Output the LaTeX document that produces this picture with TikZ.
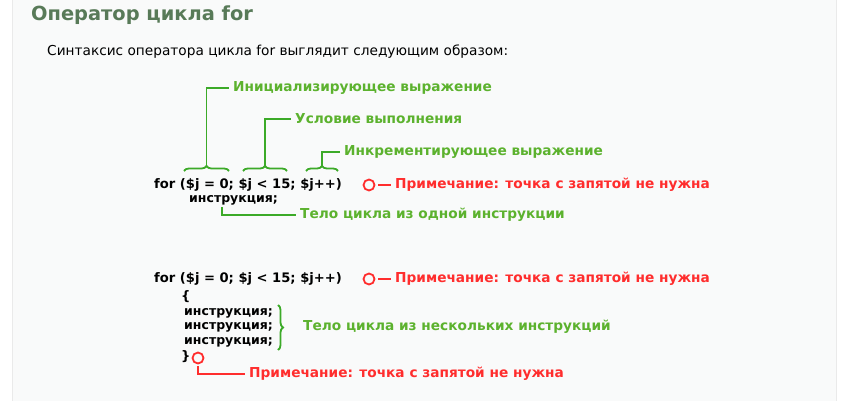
\documentclass[tikz,border=0pt]{standalone}
\usepackage{fontspec}
\setmainfont{DejaVu Sans}
\usetikzlibrary{decorations.pathreplacing}
\definecolor{headgreen}{RGB}{88,122,88}
\definecolor{notegreen}{RGB}{92,178,46}
\definecolor{linegreen}{RGB}{60,170,40}
\definecolor{notered}{RGB}{255,45,45}
\definecolor{panel}{RGB}{249,250,250}
\definecolor{panelrule}{RGB}{234,234,234}
\tikzset{
  code/.style={anchor=west,inner sep=0,font=\bfseries\fontsize{13.1}{13}\selectfont},
  instr/.style={code,font=\bfseries\fontsize{12.5}{13}\selectfont},
  note/.style={anchor=west,inner sep=0,text=notegreen,font=\bfseries\fontsize{13.7}{13}\selectfont},
  warn/.style={note,text=notered},
  gline/.style={linegreen,line width=1.8pt},
  rline/.style={notered,line width=1.8pt},
  gbrace/.style={gline,decorate,decoration={brace,amplitude=5pt}},
  ring/.style={circle,draw=notered,line width=1.8pt,minimum size=11pt,inner sep=0}
}
\begin{document}
\begin{tikzpicture}[x=1pt,y=-1pt]
\useasboundingbox (0,0) rectangle (846,401);
\fill[white] (0,0) rectangle (846,401);
\filldraw[fill=panel,draw=panelrule] (12,-2) rectangle (836,403);
\node[anchor=west,inner sep=0,text=headgreen,font=\bfseries\fontsize{19.4}{19}\selectfont] (title) at (31,15) {Оператор цикла for};
\node[anchor=west,inner sep=0,font=\fontsize{13.7}{13}\selectfont] (intro) at (47,52) {Синтаксис оператора цикла for выглядит следующим образом:};

\node[code] (for1) at (154,185) {for (\$j = 0; \$j < 15; \$j++)};
\node[instr] (body1) at (189,200) {инструкция;};
\node[note] (init) at (233,88) {Инициализирующее выражение};
\node[note] (cond) at (295,119) {Условие выполнения};
\node[note] (incr) at (344,152) {Инкрементирующее выражение};
\node[note] (one) at (300,215) {Тело цикла из одной инструкции};
\node[ring] (dot1) at (369,185) {};
\node[warn] (warn1) at (395,185) {Примечание: точка с запятой не нужна};
\draw[gbrace] (184,171) -- (229,171);
\draw[gbrace] (243,171) -- (287,171);
\draw[gbrace] (306,171) -- (338,171);
\coordinate (tip1) at (206.5,166);
\coordinate (tip2) at (265,166);
\coordinate (tip3) at (322,166);
\coordinate (stem) at (222,207);
\draw[gline,shorten >=4pt] (tip1) |- (init.west);
\draw[gline,shorten >=4pt] (tip2) |- (cond.west);
\draw[gline,shorten >=4pt] (tip3) |- (incr.west);
\draw[gline,shorten >=4pt] (stem) |- (one.west);
\draw[rline,shorten <=3pt,shorten >=4pt] (dot1) -- (warn1.west);

\node[code] (for2) at (154,279) {for (\$j = 0; \$j < 15; \$j++)};
\node[ring] (dot2) at (369,279) {};
\node[warn] (warn2) at (395,279) {Примечание: точка с запятой не нужна};
\draw[rline,shorten <=3pt,shorten >=4pt] (dot2) -- (warn2.west);
\node[code] (open) at (181,297) {\{};
\foreach \y/\n in {313/a,327/b,342/c}
  \node[instr] (instr\n) at (184,\y) {инструкция;};
\draw[gbrace] (278,305) -- (278,350);
\node[note] (many) at (303,327) {Тело цикла из нескольких инструкций};
\node[code] (close) at (181,357) {\}};
\node[ring] (dot3) at (198,358) {};
\node[warn] (warn3) at (249,374) {Примечание: точка с запятой не нужна};
\draw[rline,shorten <=2pt,shorten >=4pt] (dot3.south) |- (warn3.west);
\end{tikzpicture}
\end{document}
